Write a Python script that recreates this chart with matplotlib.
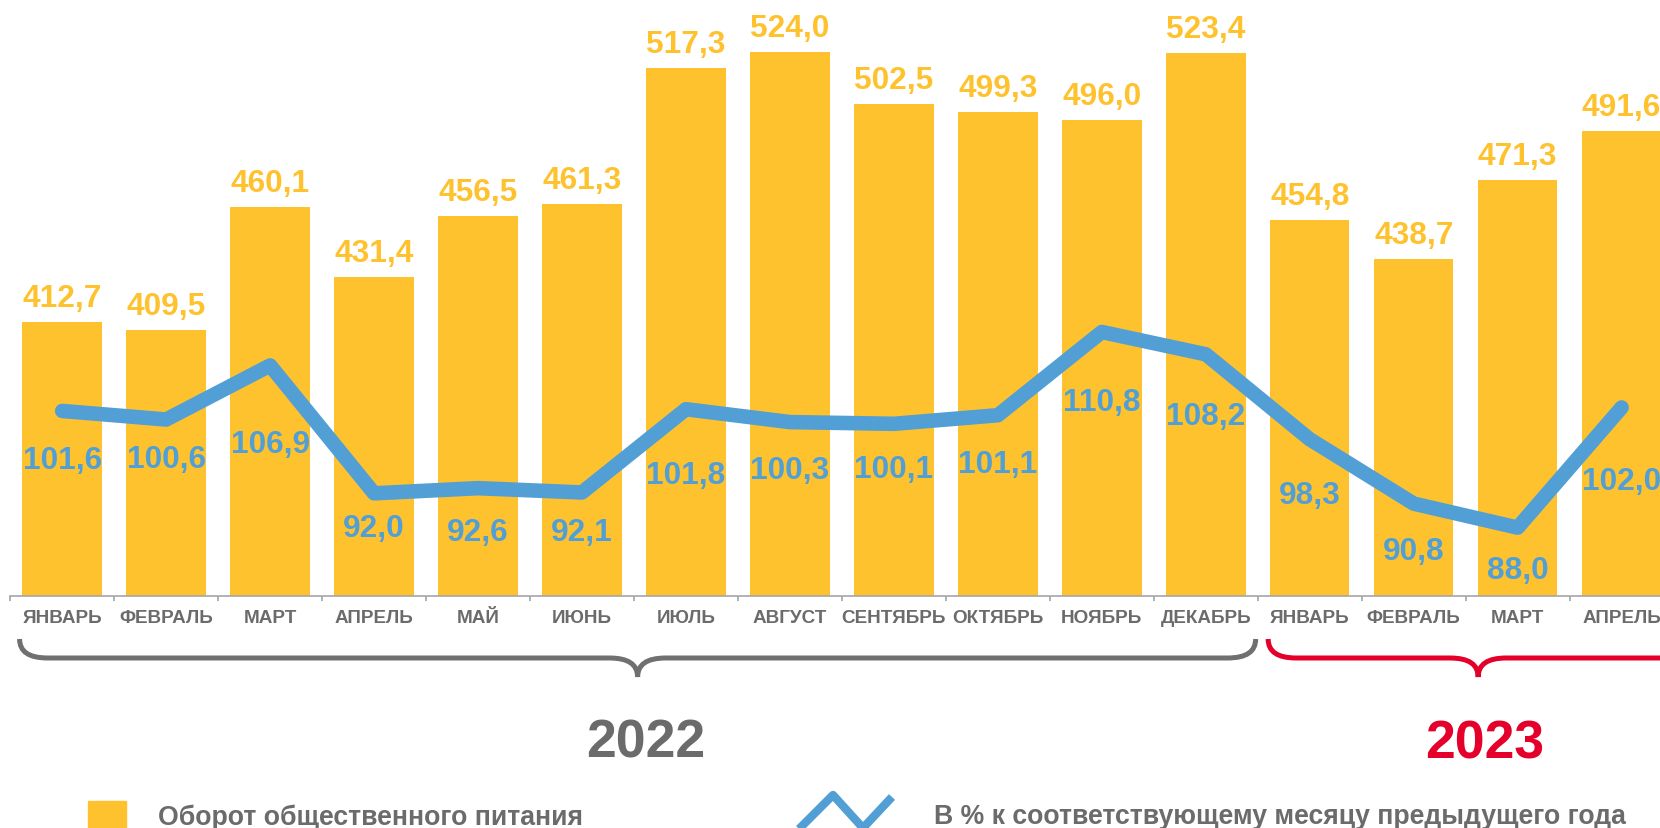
import matplotlib.pyplot as plt
from matplotlib.path import Path
from matplotlib.patches import PathPatch, Rectangle
from matplotlib.lines import Line2D
from matplotlib.transforms import IdentityTransform

plt.rcParams['font.family'] = ['Liberation Sans', 'DejaVu Sans']
plt.rcParams['font.weight'] = 'bold'

months = ['ЯНВАРЬ', 'ФЕВРАЛЬ', 'МАРТ', 'АПРЕЛЬ', 'МАЙ', 'ИЮНЬ', 'ИЮЛЬ', 'АВГУСТ',
          'СЕНТЯБРЬ', 'ОКТЯБРЬ', 'НОЯБРЬ', 'ДЕКАБРЬ',
          'ЯНВАРЬ', 'ФЕВРАЛЬ', 'МАРТ', 'АПРЕЛЬ']
turnover = [412.7, 409.5, 460.1, 431.4, 456.5, 461.3, 517.3, 524.0,
            502.5, 499.3, 496.0, 523.4, 454.8, 438.7, 471.3, 491.6]
pct_prev_year = [101.6, 100.6, 106.9, 92.0, 92.6, 92.1, 101.8, 100.3,
                 100.1, 101.1, 110.8, 108.2, 98.3, 90.8, 88.0, 102.0]
years = ['2022', '2023']
legend_labels = ['Оборот общественного питания',
                 'В % к соответствующему месяцу предыдущего года']

# % labels were placed by hand under the line in the original (points below the point)
pct_label_drop = [41, 34, 62, 31, 37, 34, 53, 40, 38, 41, 56, 50, 46, 40, 36, 59]

YELLOW = '#FFC22F'
BLUE = '#529FD6'
GRAY = '#6B6B6B'
RED = '#E4002B'

W, H = 1660, 829
fig = plt.figure(figsize=(W / 100, H / 100), dpi=100)
ax = fig.add_axes([10.2 / W, (H - 597.3) / H, 1663.4 / W, 597.3 / H])
x = list(range(len(months)))

ax.bar(x, turnover, width=0.765, color=YELLOW, zorder=2)
ax.set_xlim(-0.5, len(months) - 0.5)
ax.set_ylim(300, 545.8)
for xi, v in zip(x, turnover):
    ax.annotate(f'{v:.1f}'.replace('.', ','), (xi, v), xytext=(0, 11.5),
                textcoords='offset points', ha='center', va='baseline',
                fontsize=22.8, color=YELLOW, fontweight='bold')

ax2 = ax.twinx()
ax2.plot(x, pct_prev_year, color=BLUE, lw=10.5, solid_capstyle='round',
         solid_joinstyle='round', zorder=3)
ax2.set_ylim(80, 149.6)
for xi, v, d in zip(x, pct_prev_year, pct_label_drop):
    ax2.annotate(f'{v:.1f}'.replace('.', ','), (xi, v), xytext=(0, -d),
                 textcoords='offset points', ha='center', va='baseline',
                 fontsize=22.8, color=BLUE, fontweight='bold', zorder=4)

for a in (ax, ax2):
    for s in ('top', 'right', 'left'):
        a.spines[s].set_visible(False)
    a.set_yticks([])
ax.spines['bottom'].set_color('#A6A6A6')
ax.spines['bottom'].set_linewidth(1.2)
ax2.spines['bottom'].set_visible(False)

ax.set_xticks(x, months)
ax.tick_params(axis='x', which='major', length=0, pad=9.3, labelsize=13.6,
               labelcolor=GRAY)
ax.set_xticks([i - 0.5 for i in range(len(months) + 1)], minor=True)
ax.tick_params(axis='x', which='minor', length=3.8, width=1.2, color='#A6A6A6')


def brace(x0, x1, color):
    p0 = ax.transData.transform((x0, 0))[0]
    p1 = ax.transData.transform((x1, 0))[0]
    pm = (p0 + p1) / 2
    yt, ym, yb = H - 640, H - 659, H - 678
    r = 28
    verts = [(p0, yt), (p0, ym), (p0 + r, ym), (pm - r, ym), (pm, ym), (pm, yb),
             (pm, ym), (pm + r, ym), (p1 - r, ym), (p1, ym), (p1, yt)]
    codes = [Path.MOVETO, Path.CURVE3, Path.CURVE3, Path.LINETO, Path.CURVE3,
             Path.CURVE3, Path.CURVE3, Path.CURVE3, Path.LINETO, Path.CURVE3,
             Path.CURVE3]
    fig.add_artist(PathPatch(Path(verts, codes), fill=False, edgecolor=color,
                             lw=3.6, capstyle='butt', transform=IdentityTransform()))


brace(-0.41, 11.48, '#707070')
brace(11.6, 15.64, RED)

fig.text(646 / W, (H - 758) / H, years[0], ha='center', va='baseline',
         fontsize=38.5, color=GRAY, fontweight='bold')
fig.text(1485 / W, (H - 759) / H, years[1], ha='center', va='baseline',
         fontsize=38.5, color=RED, fontweight='bold')

# legend
fig.add_artist(Rectangle((88, H - 840), 38, 38, color=YELLOW,
                         transform=IdentityTransform()))
fig.text(158 / W, (H - 825) / H, legend_labels[0], ha='left', va='baseline',
         fontsize=19.2, color=GRAY, fontweight='bold')
fig.add_artist(Line2D([794, 833, 863, 892], [H - 835, H - 796, H - 829, H - 798],
                      color=BLUE, lw=6, solid_capstyle='butt',
                      transform=IdentityTransform()))
fig.text(934 / W, (H - 824) / H, legend_labels[1], ha='left', va='baseline',
         fontsize=19.2, color=GRAY, fontweight='bold')

fig.savefig('out.png', dpi=100)
